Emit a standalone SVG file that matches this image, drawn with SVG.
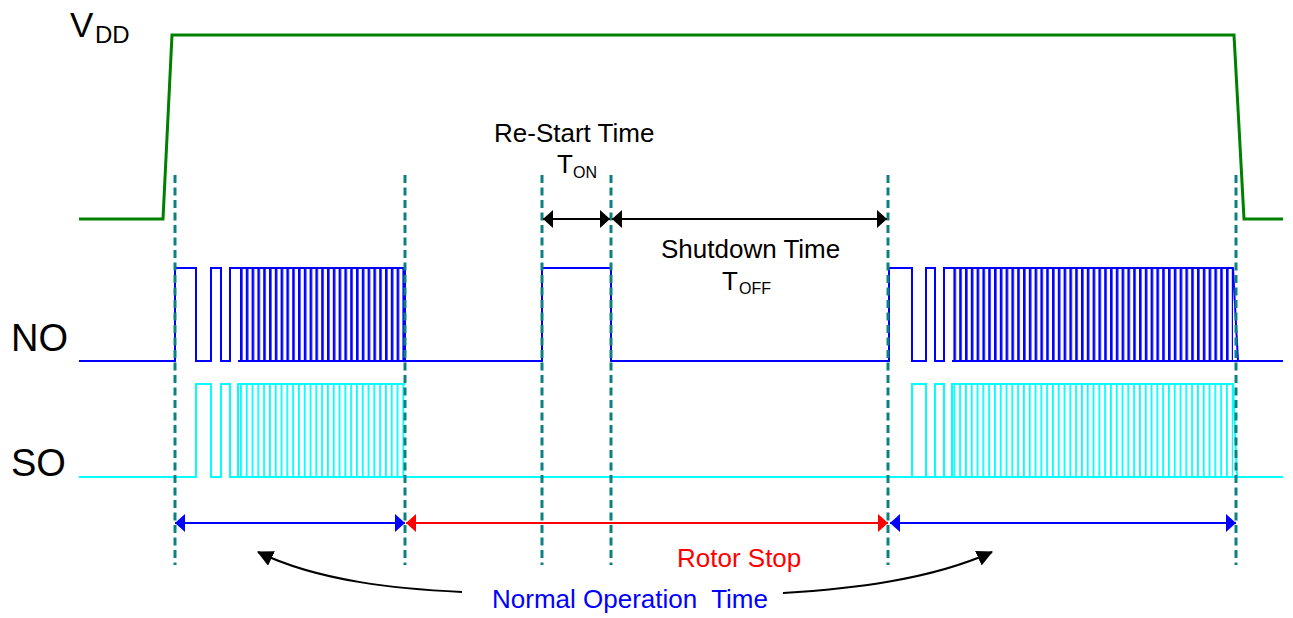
<svg xmlns="http://www.w3.org/2000/svg" width="1293" height="618" viewBox="0 0 1293 618">
<style>
text{font-family:"Liberation Sans",Arial,sans-serif}
.lbl{font-size:26px;fill:#000}
.big{font-size:38px;fill:#000}
.wave{fill:none;stroke-width:2;stroke-linejoin:miter}
.vdd{fill:none;stroke:#008000;stroke-width:3}
.no{stroke:#0000ff}
.so{stroke:#00ffff}
.guide{stroke:#0e8080;stroke-width:3;stroke-dasharray:8 4.5;fill:none}
.arr{fill:none;stroke-width:2}
</style>
<defs>
<pattern id="pNO" patternUnits="userSpaceOnUse" x="240" y="0" width="5.8" height="10">
<rect x="0" y="0" width="2.6" height="10" fill="#0000ff"/>
</pattern>
<pattern id="pSO" patternUnits="userSpaceOnUse" x="240" y="0" width="5.8" height="10">
<rect x="0" y="0" width="1.8" height="10" fill="#00ffff"/>
</pattern>
<marker id="mk" viewBox="0 0 10 18" refX="10" refY="9" markerWidth="10" markerHeight="18" markerUnits="userSpaceOnUse" orient="auto-start-reverse"><path d="M0,0 L10,9 L0,18 z" fill="#000"/></marker>
<marker id="mb" viewBox="0 0 10 18" refX="10" refY="9" markerWidth="10" markerHeight="18" markerUnits="userSpaceOnUse" orient="auto-start-reverse"><path d="M0,0 L10,9 L0,18 z" fill="#0000ff"/></marker>
<marker id="mr" viewBox="0 0 10 18" refX="10" refY="9" markerWidth="10" markerHeight="18" markerUnits="userSpaceOnUse" orient="auto-start-reverse"><path d="M0,0 L10,9 L0,18 z" fill="#ff0000"/></marker>
<marker id="mc" viewBox="0 0 16 16" refX="15" refY="8" markerWidth="16" markerHeight="16" markerUnits="userSpaceOnUse" orient="auto"><path d="M0,0 L16,8 L0,16 z" fill="#000"/></marker>
</defs>
<rect width="1293" height="618" fill="#fff"/>

<g id="vdd">
<polyline class="vdd" points="79,219 163,219 172,35 1234,35 1244,219 1283,219"/>
<text x="70" y="37" style="font-size:35px">V<tspan x="95" y="43" style="font-size:24px">DD</tspan></text>
</g>

<g id="no-signal">
<path class="wave no" d="M79,361 H175 V268 H196 V361 H211 V268 H221 V361 H230 V268 H238 M238,361 H405 M238,268 H405 V361 H542 V268 H611 V361 H889 V268 H912 V361 H926 V268 H935 V361 H944 V268 H952 M952,268 H1233 L1238,361 H1283 M952,361 H1238"/>
<rect x="238" y="268" width="167" height="93" fill="url(#pNO)"/>
<rect x="952" y="268" width="281" height="93" fill="url(#pNO)"/>
<text class="big" x="11" y="351">NO</text>
</g>

<g id="so-signal">
<path class="wave so" d="M79,477 H196 V384 H211 V477 H221 V384 H230 V477 H238 V384 H405 M238,477 H1283 M912,477 V384 H926 V477 H935 V384 H944 V477 H952 V384 H1233 L1237,477"/>
<rect x="238" y="384" width="167" height="93" fill="url(#pSO)"/>
<rect x="952" y="384" width="281" height="93" fill="url(#pSO)"/>
<text class="big" x="11" y="476">SO</text>
</g>

<g id="guides">
<line class="guide" x1="175" y1="175" x2="175" y2="565"/>
<line class="guide" x1="405" y1="175" x2="405" y2="565"/>
<line class="guide" x1="542" y1="175" x2="542" y2="565"/>
<line class="guide" x1="611" y1="175" x2="611" y2="565"/>
<line class="guide" x1="888" y1="175" x2="888" y2="565"/>
<line class="guide" x1="1236" y1="175" x2="1236" y2="565"/>
</g>

<g id="connectors">
<line class="arr" stroke="#000" x1="543" y1="219" x2="610" y2="219" marker-start="url(#mk)" marker-end="url(#mk)"/>
<line class="arr" stroke="#000" x1="612" y1="219" x2="887" y2="219" marker-start="url(#mk)" marker-end="url(#mk)"/>
<line class="arr" stroke="#0000ff" x1="175" y1="523" x2="405" y2="523" marker-start="url(#mb)" marker-end="url(#mb)"/>
<line class="arr" stroke="#ff0000" x1="406" y1="523" x2="888" y2="523" marker-start="url(#mr)" marker-end="url(#mr)"/>
<line class="arr" stroke="#0000ff" x1="890" y1="523" x2="1236" y2="523" marker-start="url(#mb)" marker-end="url(#mb)"/>
<path class="arr" stroke="#000" d="M462,592 C400,589 320,582 258,552" marker-end="url(#mc)"/>
<path class="arr" stroke="#000" d="M783,593 C850,589 930,580 992,552" marker-end="url(#mc)"/>
</g>

<g id="labels">
<text class="lbl" x="494" y="142">Re-Start Time</text>
<text class="lbl" x="557" y="173">T<tspan x="573" y="178" style="font-size:16px">ON</tspan></text>
<text class="lbl" x="661" y="258">Shutdown Time</text>
<text class="lbl" x="722" y="290">T<tspan x="739" y="294" style="font-size:16px">OFF</tspan></text>
<text class="lbl" x="677" y="567" style="fill:#ff0000">Rotor Stop</text>
<text class="lbl" x="492" y="608" style="fill:#0000ff" xml:space="preserve">Normal Operation  Time</text>
</g>
</svg>
